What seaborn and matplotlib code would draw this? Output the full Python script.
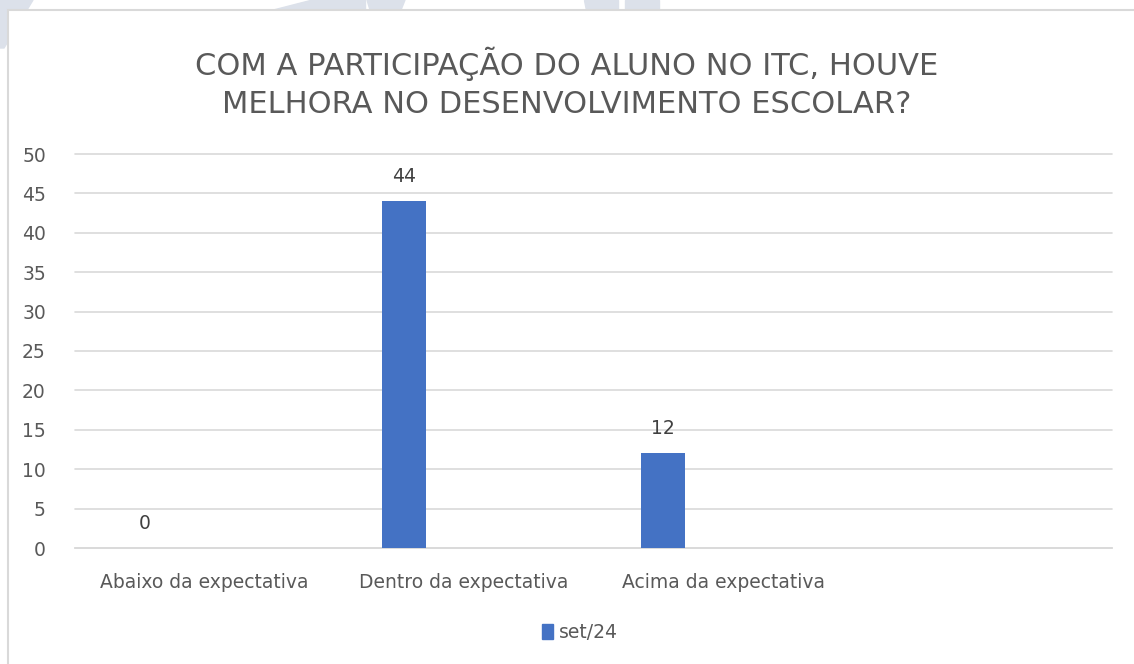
import numpy as np
import pandas as pd
import matplotlib.pyplot as plt
import seaborn as sns
from matplotlib.patches import Rectangle, Patch, Polygon

# -------------------- DATA --------------------------------
categories = ["Abaixo da expectativa", "Dentro da expectativa", "Acima da expectativa", " "]
values = [0, 44, 12, np.nan]
series_name = "set/24"
title = "COM A PARTICIPAÇÃO DO ALUNO NO ITC, HOUVE\nMELHORA NO DESENVOLVIMENTO ESCOLAR?"
yticks = list(range(0, 55, 5))

df = pd.DataFrame({"categoria": categories, "valor": values})

# -------------------- STYLE -------------------------------
sns.set_theme(style="white")
plt.rcParams['font.family'] = ['DejaVu Sans']
bar_color = "#4472C4"
text_color = "#595959"
grid_color = "#D9D9D9"
W, H = 1134, 664

fig = plt.figure(figsize=(W / 100, H / 100), dpi=100)
ax = fig.add_axes([75 / W, 116 / H, 1037 / W, 394 / H])

# faint page watermark peeking above the chart frame
wm = "#DCE1EA"
for pts in [[(0, 0), (33, 0), (4, 48), (0, 48)],
            [(310, 0), (365, 0), (365, 10), (271, 10)],
            [(367, 0), (405, 0), (401, 10), (370, 10)],
            [(584, 0), (618, 0), (618, 10), (586, 10)],
            [(625, 0), (659, 0), (659, 10), (625, 10)]]:
    fig.patches.append(Polygon([(x / W, 1 - y / H) for x, y in pts], closed=True,
                               transform=fig.transFigure, color=wm, zorder=-3))
# chart frame
fig.patches.append(Rectangle((8 / W, -0.1), 1.2, 1.1 - 10 / H, transform=fig.transFigure,
                             facecolor="white", edgecolor=grid_color, linewidth=1.5, zorder=-2))

sns.barplot(data=df, x="categoria", y="valor", color=bar_color, width=0.17,
            saturation=1, ax=ax, zorder=3)

# bars sit left of the category centre (first series of a cluster)
offset = -0.231
for p in ax.patches:
    p.set_x(p.get_x() + offset)
    p.set_edgecolor("none")

# data labels
for i, v in enumerate(values):
    if np.isnan(v):
        continue
    ax.annotate(f"{int(v)}", (i + offset, v), xytext=(0, 11), textcoords="offset points",
                ha="center", va="bottom", fontsize=13.5, color="#404040")

ax.set_xlim(-0.5, 3.5)
ax.set_ylim(0, 50)
ax.set_yticks(yticks)
ax.yaxis.grid(True, color=grid_color, linewidth=1.2, zorder=0)
for gl in ax.get_ygridlines():
    gl.set_clip_on(False)
ax.set_axisbelow(True)
ax.patch.set_alpha(0)
for s in ["top", "right", "left"]:
    ax.spines[s].set_visible(False)
ax.spines["bottom"].set_color(grid_color)
ax.spines["bottom"].set_linewidth(1.2)
ax.tick_params(axis="both", length=0, labelsize=13.5, labelcolor=text_color)
ax.tick_params(axis="x", pad=18)
ax.tick_params(axis="y", pad=21)
ax.set_xlabel("")
ax.set_ylabel("")

fig.text(0.5, 1 - 83 / H, title, ha="center", va="center", fontsize=22,
         color=text_color, linespacing=1.42)

ax.legend(handles=[Patch(color=bar_color, label=series_name)], loc="center",
          bbox_to_anchor=((580 - 75) / 1037, -0.215), frameon=False, fontsize=13.5,
          handlelength=0.6, handleheight=0.85, handletextpad=0.3, labelcolor=text_color)

plt.savefig("out.png", dpi=100)
